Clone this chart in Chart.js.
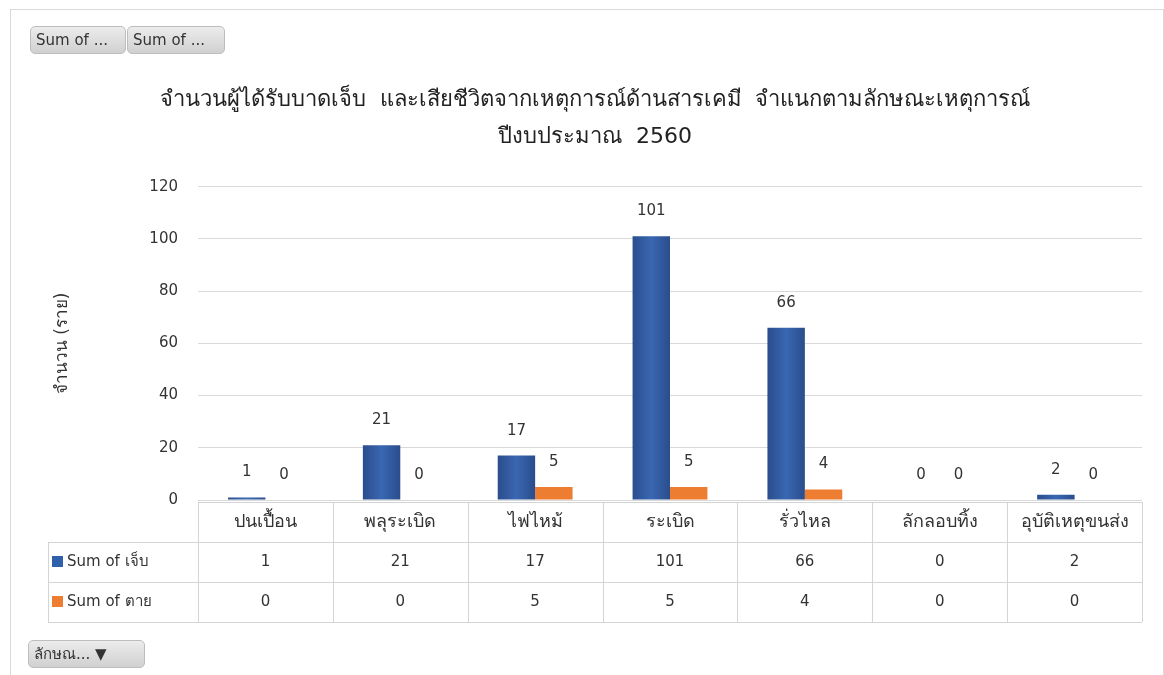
<!DOCTYPE html>
<html>
<head>
<meta charset="utf-8">
<script src="https://cdn.jsdelivr.net/npm/chart.js@4.4.1/dist/chart.umd.min.js"></script>
<style>
  body { margin: 0; background: #fff; font-family: Tahoma, 'DejaVu Sans', 'Noto Sans', sans-serif; }
  #wrap { position: relative; width: 1164px; height: 675px; overflow: hidden; }
  #frame { position: absolute; left: 10px; top: 9px; width: 1152px; height: 700px; border: 1px solid #d9d9d9; }
  canvas { position: absolute; left: 0; top: 0; }
  .btn {
    position: absolute; height: 28px; line-height: 27px; padding: 0 5px;
    font-size: 15px; color: #333; border: 1px solid #bdbdbd; border-radius: 5px;
    background: linear-gradient(#ececec, #d0d0d0); box-sizing: border-box; white-space: nowrap;
  }
</style>
</head>
<body>
<div id="wrap">
  <div id="frame"></div>
  <canvas id="chart" width="1164" height="675"></canvas>
  <div class="btn" style="left:30px; top:26px; width:96px;">Sum of ...</div>
  <div class="btn" style="left:127px; top:26px; width:98px;">Sum of ...</div>
  <div class="btn" style="left:28px; top:640px; width:117px;">ลักษณ... &#9660;</div>
</div>
<script>
const categories = ['ปนเปื้อน', 'พลุระเบิด', 'ไฟไหม้', 'ระเบิด', 'รั่วไหล', 'ลักลอบทิ้ง', 'อุบัติเหตุขนส่ง'];
const injured = [1, 21, 17, 101, 66, 0, 2];
const dead = [0, 0, 5, 5, 4, 0, 0];
const seriesNames = ['Sum of เจ็บ', 'Sum of ตาย'];
const yTicks = [0, 20, 40, 60, 80, 100, 120];

const FONT = "Tahoma, 'DejaVu Sans', 'Noto Sans', sans-serif";
const TEXT = '#333';
const BLUE = '#3160AA';
const ORANGE = '#ED7D31';
const CAT_PCT = 0.555;

function blueFill(context) {
    const chart = context.chart;
    if (!chart.chartArea || !chart.scales.x) return BLUE;
    const xs = chart.scales.x;
    const c = xs.getPixelForValue(context.dataIndex);
    const w = (xs.width / categories.length) * CAT_PCT / 2;
    const g = chart.ctx.createLinearGradient(c - w, 0, c, 0);
    g.addColorStop(0, '#2A4D8C');
    g.addColorStop(0.5, '#3A67B2');
    g.addColorStop(1, '#2A4D8C');
    return g;
}

// value labels above each bar
const valueLabels = {
    id: 'valueLabels',
    afterDatasetsDraw(chart) {
        const ctx = chart.ctx;
        ctx.save();
        ctx.font = '15px ' + FONT;
        ctx.fillStyle = TEXT;
        ctx.textAlign = 'center';
        ctx.textBaseline = 'middle';
        chart.data.datasets.forEach((ds, di) => {
            const meta = chart.getDatasetMeta(di);
            meta.data.forEach((bar, i) => {
                ctx.fillText(String(ds.data[i]), bar.x, bar.y - 25);
            });
        });
        ctx.restore();
    }
};

// excel style data table under the plot
const dataTable = {
    id: 'dataTable',
    afterDraw(chart) {
        const ctx = chart.ctx;
        const xs = chart.scales.x;
        const area = chart.chartArea;
        const colW = xs.width / categories.length;
        const left = xs.left, right = xs.right;
        const legendLeft = 48;
        const rowH = 40;
        const top = area.bottom + 2;
        const rows = [top, top + rowH, top + rowH * 2, top + rowH * 3];
        ctx.save();
        ctx.strokeStyle = '#d4d4d4';
        ctx.lineWidth = 1;
        ctx.beginPath();
        ctx.moveTo(left, rows[0] + 0.5); ctx.lineTo(right, rows[0] + 0.5);
        for (let r = 1; r < 4; r++) {
            ctx.moveTo(legendLeft, rows[r] + 0.5); ctx.lineTo(right, rows[r] + 0.5);
        }
        ctx.moveTo(legendLeft + 0.5, rows[1]); ctx.lineTo(legendLeft + 0.5, rows[3]);
        for (let c = 0; c <= categories.length; c++) {
            const x = Math.round(left + c * colW) + 0.5;
            ctx.moveTo(x, rows[0]); ctx.lineTo(x, rows[3]);
        }
        ctx.stroke();

        ctx.fillStyle = TEXT;
        ctx.textAlign = 'center';
        ctx.textBaseline = 'middle';
        categories.forEach((cat, i) => {
            const cx = xs.getPixelForValue(i);
            ctx.font = '18px ' + FONT;
            ctx.fillText(cat, cx, rows[0] + rowH / 2);
            ctx.font = '15px ' + FONT;
            ctx.fillText(String(injured[i]), cx, rows[1] + rowH / 2);
            ctx.fillText(String(dead[i]), cx, rows[2] + rowH / 2);
        });
        ctx.textAlign = 'left';
        ctx.font = '15px ' + FONT;
        [BLUE, ORANGE].forEach((col, k) => {
            const cy = rows[1 + k] + rowH / 2;
            ctx.fillStyle = col;
            ctx.fillRect(52, cy - 6, 11, 11);
            ctx.fillStyle = TEXT;
            ctx.fillText(seriesNames[k], 67, cy);
        });
        ctx.restore();
    }
};

const chart = new Chart(document.getElementById('chart').getContext('2d'), {
    type: 'bar',
    data: {
        labels: categories,
        datasets: [{
            label: seriesNames[0],
            data: injured,
            backgroundColor: blueFill,
            categoryPercentage: CAT_PCT,
            barPercentage: 1
        }, {
            label: seriesNames[1],
            data: dead,
            backgroundColor: ORANGE,
            categoryPercentage: CAT_PCT,
            barPercentage: 1
        }]
    },
    options: {
        responsive: false,
        animation: false,
        layout: {
            padding: { left: 48, right: 22, top: 0, bottom: 175 }
        },
        plugins: {
            legend: { display: false },
            tooltip: { enabled: false },
            title: {
                display: true,
                text: ['จำนวนผู้ได้รับบาดเจ็บ  และเสียชีวิตจากเหตุการณ์ด้านสารเคมี  จำแนกตามลักษณะเหตุการณ์', 'ปีงบประมาณ  2560'],
                color: '#222',
                font: { family: FONT, size: 22, weight: 'normal', lineHeight: 1.72 },
                padding: { top: 81, bottom: 30 }
            }
        },
        scales: {
            x: {
                display: false
            },
            y: {
                min: 0,
                max: 120,
                afterBuildTicks(scale) {
                    scale.ticks = yTicks.map(v => ({ value: v }));
                },
                afterFit(scale) {
                    scale.width = 150;
                },
                border: { display: false },
                grid: { color: '#d9d9d9', drawTicks: false },
                ticks: {
                    padding: 20,
                    color: TEXT,
                    font: { family: FONT, size: 15 }
                },
                title: {
                    display: true,
                    text: 'จำนวน (ราย)',
                    color: TEXT,
                    font: { family: FONT, size: 17 }
                }
            }
        }
    },
    plugins: [valueLabels, dataTable]
});
</script>
</body>
</html>
